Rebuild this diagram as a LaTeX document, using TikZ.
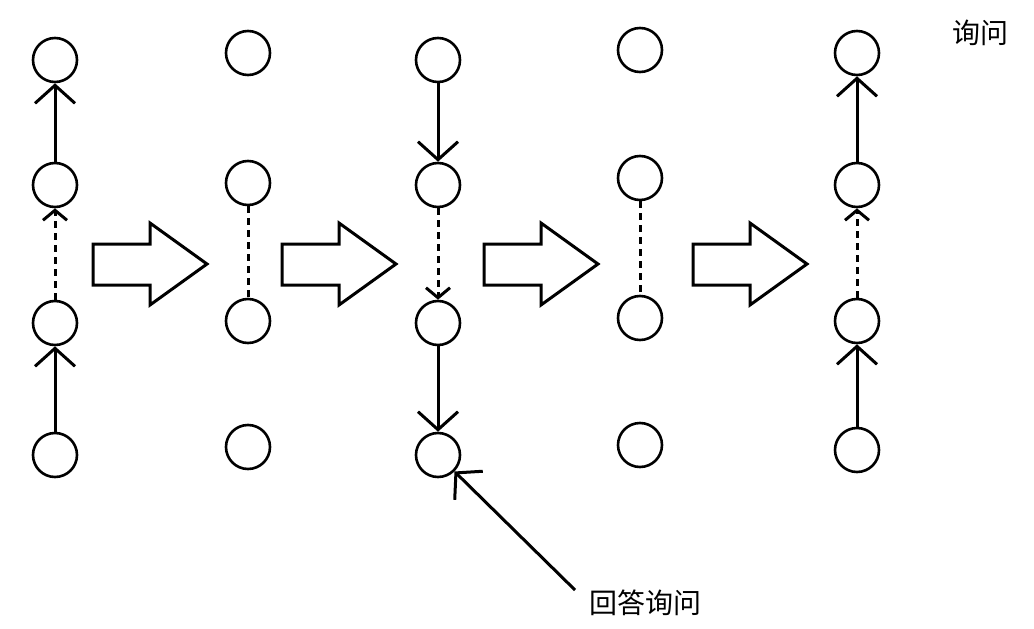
\documentclass[tikz,border=0pt]{standalone}
\usepackage{fontspec}
\newfontfamily\cjk{Noto Sans CJK SC}
\usetikzlibrary{arrows.meta}
\begin{document}
\begin{tikzpicture}[x=1pt,y=-1pt,line width=3pt,
  dot/.style={circle,draw,minimum size=44pt,inner sep=0pt,line width=2.6pt},
  sarr/.style={-{Straight Barb[length=18pt,width=40pt,line width=3pt]}},
  darr/.style={dashed,dash pattern=on 7pt off 5pt,-{Straight Barb[length=10pt,width=24pt,line width=3pt]}},
  dline/.style={dashed,dash pattern=on 7pt off 5pt},
  big/.style={draw,line width=3pt,line join=miter}]
\useasboundingbox (0,0) rectangle (1034,629);
\foreach \c/\x/\ya/\yb/\yc/\yd in {1/55/60/185/323/455,2/248/53/183/321/447,3/438/60/185/323/455,4/640/50/178/318/445,5/857/53/185/321/450}{
  \node[dot] (n\c a) at (\x,\ya) {};
  \node[dot] (n\c b) at (\x,\yb) {};
  \node[dot] (n\c c) at (\x,\yc) {};
  \node[dot] (n\c d) at (\x,\yd) {};
}
\draw[sarr] (n1b) -- (n1a);
\draw[darr] (n1c) -- (n1b);
\draw[sarr] (n1d) -- (n1c);
\draw[dline] (n2b) -- (n2c);
\draw[sarr] (n3a) -- (n3b);
\draw[darr] (n3b) -- (n3c);
\draw[sarr] (n3c) -- (n3d);
\draw[dline] (n4b) -- (n4c);
\draw[sarr] (n5b) -- (n5a);
\draw[darr] (n5c) -- (n5b);
\draw[sarr] (n5d) -- (n5c);
\foreach \x in {93,282,484,693}{
  \draw[big] (\x,244) -- (\x+57,244) -- (\x+57,223) -- (\x+114,264) -- (\x+57,305) -- (\x+57,285) -- (\x,285) -- cycle;
}
\node[font=\cjk\fontsize{28}{32}\selectfont] (q) at (980,33) {询问};
\node[font=\cjk\fontsize{28}{32}\selectfont] (ans) at (645,603) {回答询问};
\coordinate (s) at (575,590);
\draw[sarr] (s) -- (n3d.-45);
\end{tikzpicture}
\end{document}
